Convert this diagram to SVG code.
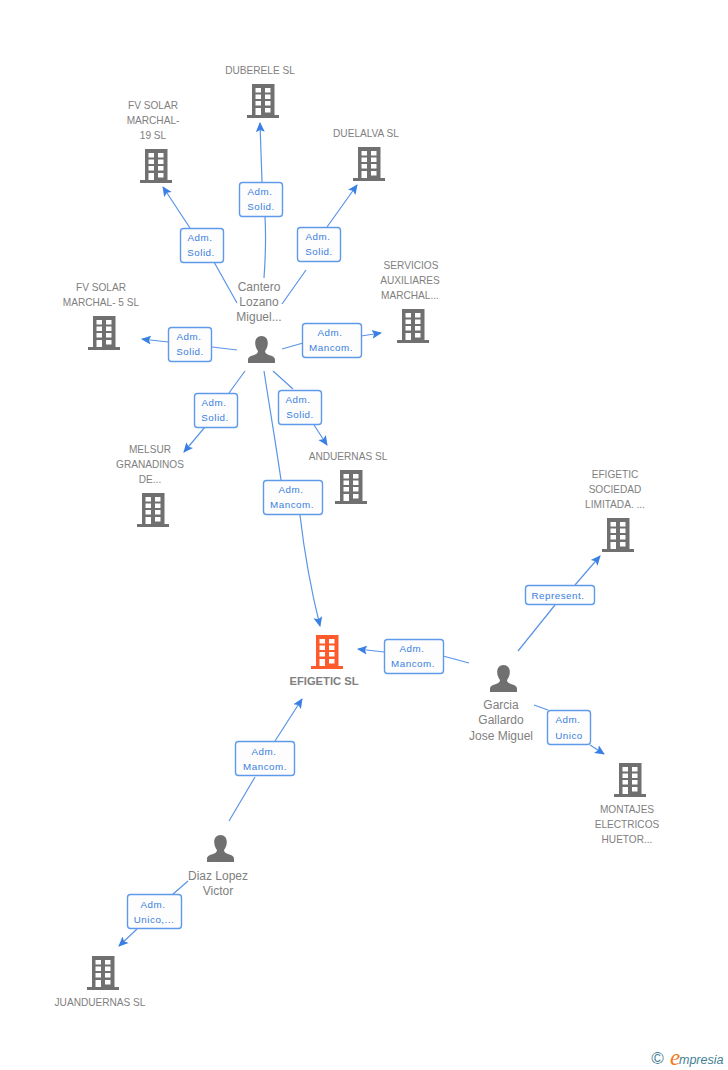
<svg xmlns="http://www.w3.org/2000/svg" width="728" height="1070" viewBox="0 0 728 1070">
<style>
text{font-family:"Liberation Sans",Arial,sans-serif}
.n{font-size:10.1px;fill:#808080;text-anchor:middle}
.p{font-size:12px;fill:#808080;text-anchor:middle}
.m{font-size:11.2px;font-weight:bold;fill:#808080;text-anchor:middle}
.l{font-size:9.800px;fill:#3a7fe0;text-anchor:middle;letter-spacing:.5px}
.b{fill:#fdfdfd;stroke:#5f9aea;stroke-width:1.4}
.c{fill:none;stroke:#5a94e8;stroke-width:1.2}
</style>
<defs>
<symbol id="bld" width="32" height="34" viewBox="0 0 32 34" overflow="visible">
<path fill-rule="evenodd" d="M5 0H27.500V31H32V34H0V31H5ZM8.500 4V8.500H14V4ZM18 4V8.500H23.500V4ZM8.500 10.500V15H14V10.500ZM18 10.500V15H23.500V10.500ZM8.500 17V21.500H14V17ZM18 17V21.500H23.500V17ZM8.500 24V31H14V24ZM18 24V28.500H23.500V24Z"/>
</symbol>
<symbol id="per" width="27" height="27" viewBox="0 0 27 27">
<path fill="#707070" d="M13.500 0C17.500 0 19.800 3 19.800 7C19.800 10.500 18.500 13 17 15C17 17 18.500 18 21 19C24.500 20.200 27 21 27 24V27H0V24C0 21 2.500 20.200 6 19C8.500 18 10 17 10 15C8.500 13 7.200 10.500 7.200 7C7.200 3 9.500 0 13.500 0Z"/>
</symbol>
<marker id="a" markerWidth="11" markerHeight="10" refX="9" refY="5" orient="auto" markerUnits="userSpaceOnUse"><path d="M0 0.500L10 5L0 9.500L2 5Z" fill="#3a80e4"/></marker>
</defs>
<g id="connectors">
<path class="c" d="M264 278C266 250 266 235 265 217M262 182L260 123" marker-end="url(#a)"/>
<path class="c" d="M237 303L214 262M190 228L163 187" marker-end="url(#a)"/>
<path class="c" d="M282 304L306 270M327 227L357 185" marker-end="url(#a)"/>
<path class="c" d="M282 349L303 343M361 336L381 333" marker-end="url(#a)"/>
<path class="c" d="M237 350L212 347M168 342L142 339" marker-end="url(#a)"/>
<path class="c" d="M245 371L229 393M205 427L184 452" marker-end="url(#a)"/>
<path class="c" d="M273 371L293 389M314 425L327 445" marker-end="url(#a)"/>
<path class="c" d="M264 371C270 410 276 445 281 480M300 515C304 550 311 590 320 626" marker-end="url(#a)"/>
<path class="c" d="M469 663L443 656M384 652L358 649" marker-end="url(#a)"/>
<path class="c" d="M518 651L555 605M575 585L600 556" marker-end="url(#a)"/>
<path class="c" d="M534 705L548 710M590 745L604 754" marker-end="url(#a)"/>
<path class="c" d="M229 821L255 777M275 741L302 699" marker-end="url(#a)"/>
<path class="c" d="M188 881L172 895M137 929L119 946" marker-end="url(#a)"/>
</g>
<g id="n-duberele"><use href="#bld" x="247" y="84" fill="#707070"/><text class="n" x="260" y="74">DUBERELE SL</text></g>
<g id="n-fv19"><use href="#bld" x="140" y="149" fill="#707070"/><text class="n" x="153" y="109">FV SOLAR</text><text class="n" x="153" y="124">MARCHAL-</text><text class="n" x="153" y="139">19 SL</text></g>
<g id="n-duelalva"><use href="#bld" x="353" y="147" fill="#707070"/><text class="n" x="366" y="137">DUELALVA SL</text></g>
<g id="n-servicios"><use href="#bld" x="397" y="309" fill="#707070"/><text class="n" x="411" y="269">SERVICIOS</text><text class="n" x="410" y="284">AUXILIARES</text><text class="n" x="410" y="299">MARCHAL...</text></g>
<g id="n-fv5"><use href="#bld" x="88" y="316" fill="#707070"/><text class="n" x="101" y="291">FV SOLAR</text><text class="n" x="101" y="306">MARCHAL- 5 SL</text></g>
<g id="n-melsur"><use href="#bld" x="137" y="493" fill="#707070"/><text class="n" x="150" y="453">MELSUR</text><text class="n" x="150" y="468">GRANADINOS</text><text class="n" x="150" y="483">DE...</text></g>
<g id="n-anduernas"><use href="#bld" x="335" y="470" fill="#707070"/><text class="n" x="348" y="460">ANDUERNAS SL</text></g>
<g id="n-efigetic"><use href="#bld" x="311" y="635" fill="#ff5a2b"/><text class="m" x="324" y="685">EFIGETIC SL</text></g>
<g id="n-sociedad"><use href="#bld" x="602" y="518" fill="#707070"/><text class="n" x="615" y="478">EFIGETIC</text><text class="n" x="615" y="493">SOCIEDAD</text><text class="n" x="615" y="508">LIMITADA. ...</text></g>
<g id="n-montajes"><use href="#bld" x="614" y="763" fill="#707070"/><text class="n" x="627" y="813">MONTAJES</text><text class="n" x="627" y="828">ELECTRICOS</text><text class="n" x="627" y="843">HUETOR...</text></g>
<g id="n-juanduernas"><use href="#bld" x="87" y="956" fill="#707070"/><text class="n" x="100" y="1006">JUANDUERNAS SL</text></g>
<g id="n-cantero"><use href="#per" x="248" y="336"/><text class="p" x="259" y="291">Cantero</text><text class="p" x="259" y="306">Lozano</text><text class="p" x="259" y="321">Miguel...</text></g>
<g id="n-garcia"><use href="#per" x="490" y="665"/><text class="p" x="501" y="709">Garcia</text><text class="p" x="501" y="724">Gallardo</text><text class="p" x="501" y="740">Jose Miguel</text></g>
<g id="n-diaz"><use href="#per" x="207" y="835"/><text class="p" x="218" y="880">Diaz Lopez</text><text class="p" x="218" y="895">Victor</text></g>
<g id="labels">
<g><rect class="b" x="239.500" y="182.500" width="43" height="34" rx="3"/><text class="l" x="260" y="195">Adm.</text><text class="l" x="261" y="210">Solid.</text></g>
<g><rect class="b" x="180.500" y="228.500" width="43" height="34" rx="3"/><text class="l" x="200" y="241">Adm.</text><text class="l" x="201" y="256">Solid.</text></g>
<g><rect class="b" x="297.500" y="227.500" width="43" height="34" rx="3"/><text class="l" x="318" y="240">Adm.</text><text class="l" x="319" y="255">Solid.</text></g>
<g><rect class="b" x="302.500" y="323.500" width="59" height="34" rx="3"/><text class="l" x="330" y="336">Adm.</text><text class="l" x="331" y="351">Mancom.</text></g>
<g><rect class="b" x="168.500" y="327.500" width="43" height="34" rx="3"/><text class="l" x="189" y="340">Adm.</text><text class="l" x="190" y="355">Solid.</text></g>
<g><rect class="b" x="194.500" y="393.500" width="43" height="34" rx="3"/><text class="l" x="214" y="406">Adm.</text><text class="l" x="215" y="421">Solid.</text></g>
<g><rect class="b" x="278.500" y="390.500" width="43" height="34" rx="3"/><text class="l" x="298" y="403">Adm.</text><text class="l" x="300" y="418">Solid.</text></g>
<g><rect class="b" x="263.500" y="480.500" width="59" height="34" rx="3"/><text class="l" x="291" y="493">Adm.</text><text class="l" x="292" y="508">Mancom.</text></g>
<g><rect class="b" x="384.500" y="639.500" width="59" height="34" rx="3"/><text class="l" x="412" y="652">Adm.</text><text class="l" x="413" y="667">Mancom.</text></g>
<g><rect class="b" x="525.500" y="585.500" width="69" height="19" rx="3"/><text class="l" x="558" y="599">Represent.</text></g>
<g><rect class="b" x="547.500" y="710.500" width="43" height="34" rx="3"/><text class="l" x="568" y="723">Adm.</text><text class="l" x="569" y="739">Unico</text></g>
<g><rect class="b" x="235.500" y="741.500" width="59" height="34" rx="3"/><text class="l" x="264" y="755">Adm.</text><text class="l" x="265" y="770">Mancom.</text></g>
<g><rect class="b" x="127.500" y="894.500" width="54" height="34" rx="3"/><text class="l" x="153" y="908">Adm.</text><text class="l" x="154" y="923">Unico,...</text></g>
</g>
<g id="logo"><text x="657.500" y="1064" font-size="17" fill="#4a7f96" text-anchor="middle">©</text><text x="670" y="1065" font-size="23" font-style="italic" fill="#f07a12" style="font-family:'Liberation Serif',serif">e</text><text x="679" y="1064" font-size="12.500" font-style="italic" fill="#3f7f93">mpresia</text></g>
</svg>
